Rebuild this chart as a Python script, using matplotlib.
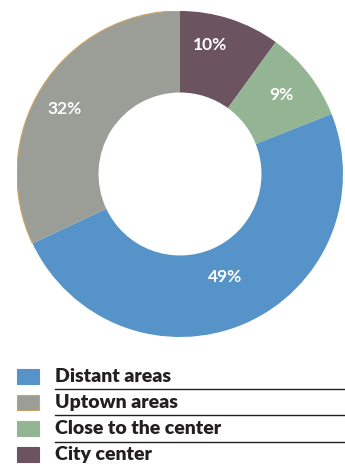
import matplotlib.pyplot as plt
import numpy as np
from matplotlib.patches import Rectangle, Arc

categories = ['City center', 'Close to the center', 'Distant areas', 'Uptown areas']
shares = [10, 9, 49, 32]
colors = ['#6B5360', '#93B594', '#5593C8', '#9A9E97']
edges = ['none', 'none', 'none', '#C8A36A']
legend_order = ['Distant areas', 'Uptown areas', 'Close to the center', 'City center']
label_radius = [0.81, 0.79, 0.69, 0.81]
label_shift = [5, 0, 0, 3]  # degrees, small nudges

plt.rcParams['font.family'] = ['Lato', 'DejaVu Sans']

fig = plt.figure(figsize=(3.45, 4.67), dpi=100)

# donut
ax = fig.add_axes([17 / 345, (467 - 337) / 467, 326 / 345, 326 / 467])
wedges, _ = ax.pie(shares, colors=colors, startangle=90, counterclock=False,
                   radius=1, wedgeprops=dict(width=0.5, linewidth=0))
# thin tan rim only on the outer arc
for w, ec in zip(wedges, edges):
    if ec != 'none':
        ax.add_patch(Arc((0, 0), 2, 2, theta1=w.theta1, theta2=w.theta2,
                         color=ec, linewidth=0.9))
for w, v, r, s in zip(wedges, shares, label_radius, label_shift):
    mid = np.deg2rad((w.theta1 + w.theta2) / 2 + s)
    ax.text(r * np.cos(mid), r * np.sin(mid), f'{v}%', color='white',
            fontsize=12.5, fontweight='bold', ha='center', va='center')
ax.set_xlim(-1, 1)
ax.set_ylim(-1, 1)
ax.set_aspect('equal')
ax.axis('off')

# legend with rules under each entry
lg = fig.add_axes([0, 0, 1, 105 / 467])
lg.set_xlim(0, 345)
lg.set_ylim(467, 362)
lg.axis('off')
for i, name in enumerate(legend_order):
    k = categories.index(name)
    yc = 376 + i * 26.3
    lg.add_patch(Rectangle((17, yc - 7.5), 22, 15, facecolor=colors[k],
                           edgecolor=edges[k] if edges[k] != 'none' else colors[k],
                           linewidth=0.8))
    lg.text(55, yc, name, fontsize=14, fontweight='heavy', color='#231F20',
            ha='left', va='center')
    if i < len(legend_order) - 1:
        lg.plot([55, 345], [yc + 13, yc + 13], color='#231F20', linewidth=1.0)

fig.savefig('out.png', dpi=100)
